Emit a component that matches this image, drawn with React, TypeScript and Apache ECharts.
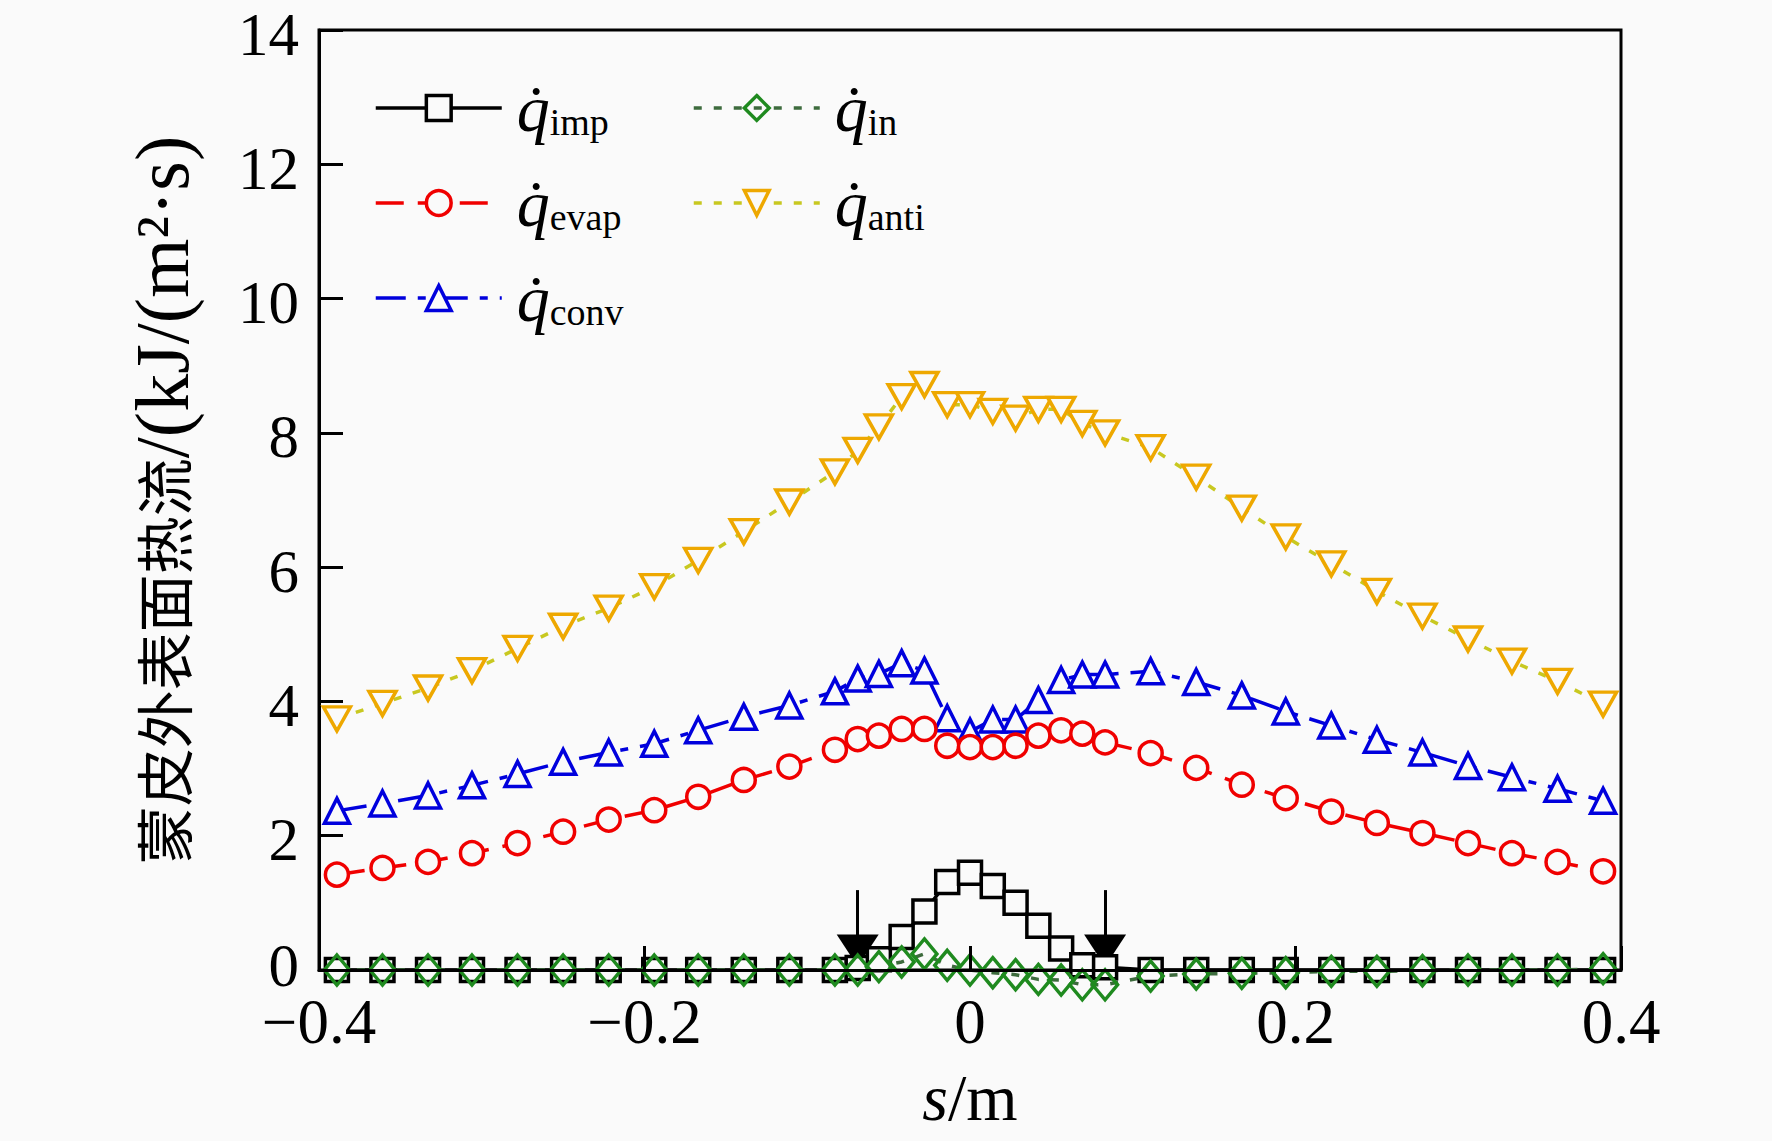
import React, { useEffect, useRef } from "react";
import * as echarts from "echarts";

// positions along the skin, s (m)
const sPos = [
	-0.389, -0.361, -0.333, -0.306, -0.278, -0.25, -0.222, -0.194, -0.167, -0.139, -0.111, -0.083,
	-0.069, -0.056, -0.042, -0.028, -0.014, 0, 0.014, 0.028, 0.042, 0.056, 0.069, 0.083,
	0.111, 0.139, 0.167, 0.194, 0.222, 0.25, 0.278, 0.306, 0.333, 0.361, 0.389,
];

// heat flux, kJ/(m2·s)
const qImp = [
	0, 0, 0, 0, 0, 0, 0, 0, 0, 0, 0, 0,
	0.03, 0.16, 0.49, 0.87, 1.31, 1.45, 1.25, 1.0, 0.66, 0.32, 0.07, 0.04,
	0, 0, 0, 0, 0, 0, 0, 0, 0, 0, 0,
];
const qEvap = [
	1.42, 1.52, 1.61, 1.74, 1.89, 2.06, 2.24, 2.38, 2.58, 2.83, 3.03, 3.28,
	3.44, 3.49, 3.59, 3.59, 3.34, 3.32, 3.32, 3.34, 3.49, 3.57, 3.52, 3.39,
	3.23, 3.01, 2.76, 2.56, 2.36, 2.19, 2.04, 1.89, 1.74, 1.61, 1.47,
];
const qConv = [
	2.37, 2.48, 2.6, 2.75, 2.92, 3.1, 3.24, 3.37, 3.57, 3.77, 3.94, 4.15,
	4.34, 4.41, 4.57, 4.46, 3.75, 3.55, 3.73, 3.73, 4.02, 4.32, 4.4, 4.4,
	4.45, 4.29, 4.09, 3.85, 3.64, 3.43, 3.24, 3.04, 2.87, 2.7, 2.52,
];
const qIn = [
	0, 0, 0, 0, 0, 0, 0, 0, 0, 0, 0, 0,
	0, 0.05, 0.12, 0.24, 0.07, 0, -0.04, -0.07, -0.14, -0.15, -0.22, -0.22,
	-0.09, -0.06, -0.05, -0.04, -0.02, -0.02, -0.01, 0, 0, 0, 0.02,
];
const qAnti = [
	3.74, 3.97, 4.2, 4.46, 4.79, 5.12, 5.39, 5.71, 6.1, 6.53, 6.97, 7.42,
	7.74, 8.09, 8.54, 8.72, 8.42, 8.42, 8.32, 8.22, 8.35, 8.35, 8.14, 8.0,
	7.78, 7.34, 6.88, 6.45, 6.05, 5.64, 5.27, 4.93, 4.6, 4.3, 3.96,
];

// impingement limits marked with arrows
const arrowS = [-0.069, 0.083];
const arrowTop = 1.19;
const arrowHead = 0.29;

const xTicks = { min: -0.4, max: 0.4, step: 0.2 };
const yTicks = { min: 0, max: 14, step: 2 };

const BG = "#fafafa";
const SERIF = "'Liberation Serif', 'Times New Roman', serif";
const DOWN_TRI = "path://M0,0L20,0L10,17.32Z";

const lineSeries = (
	name: string,
	values: number[],
	edge: string,
	lineColor: string,
	symbol: string,
	size: number | number[],
	dash: any,
	fill: string
) => ({
	name,
	type: "line",
	data: sPos.map((s, i) => [s, values[i]]),
	symbol,
	symbolSize: size,
	clip: false,
	lineStyle: { color: lineColor, width: 3.5, type: dash },
	itemStyle: { color: fill, borderColor: edge, borderWidth: 3.5 },
	emphasis: { disabled: true },
});

const legendRich = {
	q: {
		fontFamily: SERIF,
		fontStyle: "italic",
		fontSize: 66,
		lineHeight: 66,
		color: "#000",
		padding: [0, 0, 0, 10],
	},
	s: {
		fontFamily: SERIF,
		fontSize: 38,
		lineHeight: 15,
		verticalAlign: "bottom",
		color: "#000",
	},
};

const App: React.FC = () => {
	const chartRef = useRef<HTMLDivElement>(null);

	useEffect(() => {
		document.body.style.margin = "0";
		if (!chartRef.current) return;
		const chart = echarts.init(chartRef.current, null, { renderer: "svg" });

		const legendBase = {
			orient: "vertical",
			top: 75,
			padding: 0,
			itemGap: 29,
			itemWidth: 126,
			itemHeight: 31,
			selectedMode: false,
			lineStyle: { width: 3.5 },
			itemStyle: { borderWidth: 3.5 },
			formatter: (name: string) => `{q|q\u0307}{s|${name}}`,
			textStyle: { rich: legendRich },
		};

		const yLabelStyle = { fontFamily: SERIF, fontSize: 61, lineHeight: 40, color: "#000" };

		const option: any = {
			animation: false,
			backgroundColor: BG,
			textStyle: { fontFamily: SERIF },
			grid: {
				left: 319,
				right: 151,
				top: 30,
				bottom: 171,
				show: true,
				borderColor: "#000",
				borderWidth: 3,
				backgroundColor: "transparent",
				outerBoundsMode: "none",
			},
			legend: [
				{ ...legendBase, left: 374, data: ["imp", "evap", "conv"] },
				{ ...legendBase, left: 692, data: ["in", "anti"] },
			],
			xAxis: {
				type: "value",
				min: xTicks.min,
				max: xTicks.max,
				interval: xTicks.step,
				z: 5,
				name: "{i|s}{n|/m}",
				nameLocation: "middle",
				nameGap: 92,
				nameMoveOverlap: false,
				nameTextStyle: {
					rich: {
						i: { fontFamily: SERIF, fontStyle: "italic", fontSize: 66, lineHeight: 70, color: "#000" },
						n: { fontFamily: SERIF, fontSize: 66, lineHeight: 70, color: "#000" },
					},
				},
				axisLine: { show: true, onZero: false, lineStyle: { color: "#000", width: 3 } },
				axisTick: { show: true, inside: true, length: 24, lineStyle: { color: "#000", width: 3 } },
				axisLabel: {
					fontFamily: SERIF,
					fontSize: 63,
					lineHeight: 46,
					color: "#000",
					margin: 29,
					formatter: (v: number) => (v < 0 ? "\u2212" + String(-v) : String(v)),
				},
				splitLine: { show: false },
			},
			yAxis: {
				type: "value",
				min: yTicks.min,
				max: yTicks.max,
				interval: yTicks.step,
				name: "{c|蒙皮外表面热流}{l|/(kJ/(m²·s)}",
				nameLocation: "middle",
				nameGap: 122,
				nameMoveOverlap: false,
				nameTextStyle: {
					rich: {
						c: { fontFamily: "'Noto Sans CJK SC'", fontSize: 58, lineHeight: 70, color: "#000" },
						l: { fontFamily: SERIF, fontSize: 76, lineHeight: 70, color: "#000" },
					},
				},
				axisLine: { show: true, onZero: false, lineStyle: { color: "#000", width: 3 } },
				axisTick: { show: true, inside: true, length: 24, lineStyle: { color: "#000", width: 3 } },
				axisLabel: {
					margin: 20,
					formatter: (v: number) => (v === 0 ? `{z|${v}}` : `{n|${v}}`),
					rich: {
						n: { ...yLabelStyle, padding: [8, 0, 0, 0] },
						z: { ...yLabelStyle, padding: [0, 0, 10, 0] },
					},
				},
				splitLine: { show: false },
			},
			series: [
				lineSeries("anti", qAnti, "#eea800", "#c8c820", DOWN_TRI, [27, 24], [8, 12], BG),
				lineSeries("conv", qConv, "#0000dd", "#0000dd", "triangle", 25, [30, 12, 8, 12], BG),
				lineSeries("evap", qEvap, "#f00000", "#f00000", "circle", 23, [28, 14], BG),
				lineSeries("imp", qImp, "#000000", "#000000", "rect", 23, "solid", BG),
				lineSeries("in", qIn, "#1f8a1f", "#3d6b3d", "diamond", [25, 30], [8, 12], "rgba(0,0,0,0)"),
				{
					name: "arrow",
					type: "scatter",
					data: arrowS.map((s) => [s, arrowHead]),
					symbol: DOWN_TRI,
					symbolSize: [42, 32],
					itemStyle: { color: "#000", opacity: 1 },
					emphasis: { disabled: true },
					silent: true,
					clip: false,
					markLine: {
						silent: true,
						symbol: ["none", "none"],
						label: { show: false },
						lineStyle: { color: "#000", width: 3, type: "solid", opacity: 1 },
						emphasis: { disabled: true },
						data: arrowS.map((s) => [{ coord: [s, arrowTop] }, { coord: [s, arrowHead] }]),
					},
				},
			],
		};

		chart.setOption(option);

		return () => {
			chart.dispose();
		};
	}, []);

	return <div ref={chartRef} style={{ width: "1772px", height: "1141px" }} />;
};

export default App;
